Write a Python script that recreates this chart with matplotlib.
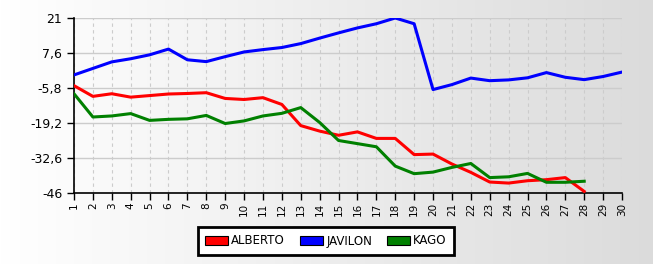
import numpy as np
import matplotlib
matplotlib.use("Agg")
import matplotlib.pyplot as plt
from matplotlib.patches import Patch
from matplotlib.ticker import FixedLocator, FuncFormatter

days = list(range(1, 31))
alberto = [-4.9, -9.0, -8.0, -9.3, -8.7, -8.1, -7.9, -7.6, -9.8, -10.2, -9.5, -12.1, -20.2, -22.3,
           -23.9, -22.6, -25.1, -25.1, -31.3, -31.1, -34.9, -38.1, -41.8, -42.2, -41.3, -40.9, -40.1, -45.4]
javilon = [-0.8, 1.7, 4.2, 5.4, 6.9, 9.1, 5.0, 4.3, 6.2, 8.0, 8.9, 9.7, 11.2, 13.3,
           15.3, 17.2, 18.8, 21.0, 18.8, -6.4, -4.5, -2.0, -3.0, -2.7, -1.9, 0.1, -1.7, -2.6, -1.4, 0.3]
kago = [-8.0, -16.9, -16.5, -15.6, -18.2, -17.8, -17.6, -16.3, -19.4, -18.4, -16.5, -15.5, -13.3, -19.0,
        -25.9, -27.1, -28.3, -35.7, -38.6, -38.0, -36.2, -34.7, -40.1, -39.8, -38.5, -41.9, -41.9, -41.5]
yticks = [21, 7.6, -5.8, -19.2, -32.6, -46]
names = ["ALBERTO", "JAVILON", "KAGO"]
colors = ["#ff0000", "#0000ff", "#008000"]

fig = plt.figure(figsize=(6.53, 2.64), dpi=100)
bg = fig.add_axes([0, 0, 1, 1], zorder=-10)
grad = np.linspace(1.0, 0.86, 256)
img = np.dstack([np.tile(grad, (2, 1))] * 3)
bg.imshow(img, aspect="auto", extent=[0, 1, 0, 1])
bg.axis("off")

ax = fig.add_axes([74/653, 1-193/264, (622-74)/653, 175/264])
ax.patch.set_alpha(0)
series = [alberto, javilon, kago]
for name, vals, c in zip(names, series, colors):
    ax.plot(days[:len(vals)], vals, color=c, lw=2.2, solid_joinstyle="round", zorder=3)

ax.set_xlim(1, 30)
ax.set_ylim(-46, 21)
ax.set_xticks(days)
ax.set_xticklabels([str(d) for d in days], rotation=90, fontsize=7.5)
ax.yaxis.set_major_locator(FixedLocator(yticks))
ax.yaxis.set_major_formatter(FuncFormatter(lambda v, p: (f"{v:g}").replace(".", ",")))
ax.tick_params(axis="y", labelsize=9, length=5, width=1)
ax.tick_params(axis="x", length=5, width=1, pad=2)
ax.grid(axis="y", color="#cccccc", lw=1, ls="-")
ax.grid(axis="x", color="#cccccc", lw=0.8, ls=(0, (3, 3)))
ax.set_axisbelow(True)
for s in ["top", "right"]:
    ax.spines[s].set_visible(False)
for s in ["left", "bottom"]:
    ax.spines[s].set_linewidth(1.2)

handles = [Patch(facecolor=c, edgecolor="black", lw=0.8, label=n) for n, c in zip(names, colors)]
leg = fig.legend(handles=handles, loc="center", bbox_to_anchor=(326/653, 1-241/264), ncol=3,
                 frameon=True, fancybox=False, fontsize=8.5, handlelength=1.9, handleheight=0.75,
                 columnspacing=1.3, handletextpad=0.3, borderpad=0.6, borderaxespad=0)
leg.get_frame().set_edgecolor("black")
leg.get_frame().set_linewidth(2)
leg.get_frame().set_facecolor("white")
leg.get_frame().set_alpha(1)

fig.savefig("out.png", dpi=100)
